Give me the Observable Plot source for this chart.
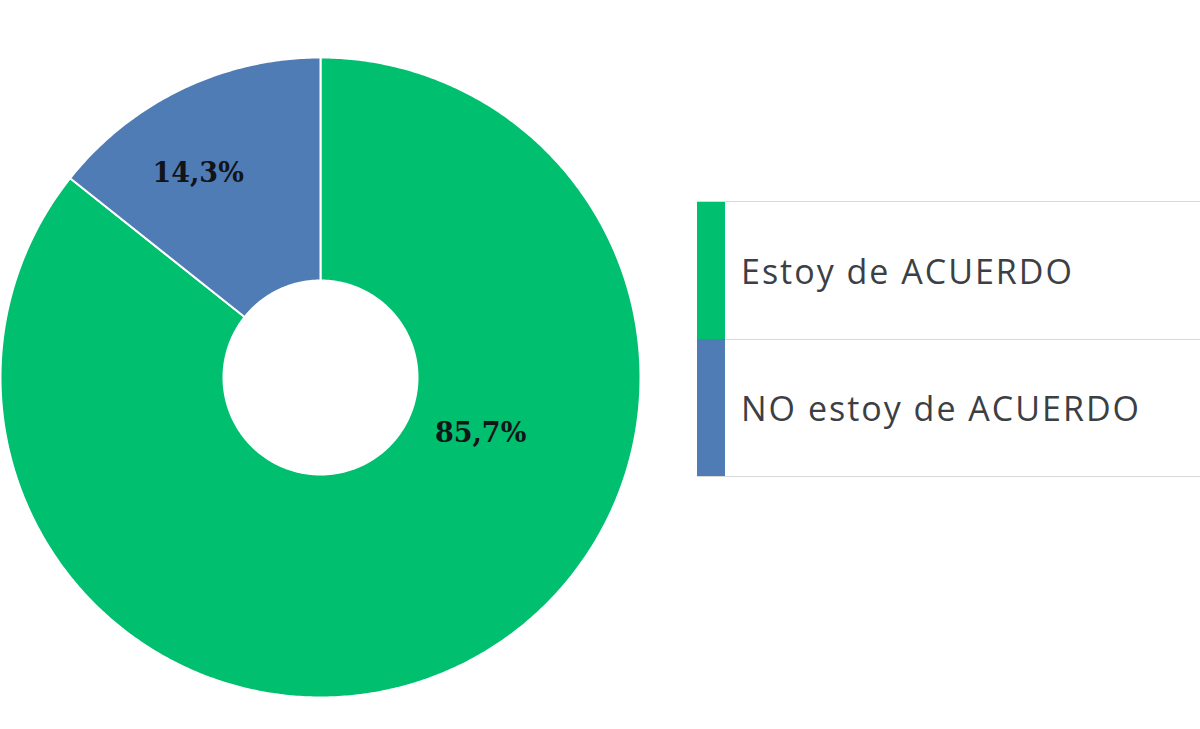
<!DOCTYPE html>
<html>
<head>
<meta charset="utf-8">
<script src="https://cdn.jsdelivr.net/npm/d3@7"></script>
<script src="https://cdn.jsdelivr.net/npm/@observablehq/plot@0.6"></script>
<style>
  html, body { margin: 0; padding: 0; background: #fff; }
  #wrap { position: relative; width: 1200px; height: 729px; overflow: hidden; }
  #legend { position: absolute; left: 697px; top: 201px; width: 503px;
            border-top: 1.5px solid #d9d9d9; border-bottom: 1.5px solid #d9d9d9;
            font-family: "Open Sans", sans-serif; color: #3c3f44; }
  .row { display: flex; height: 137px; }
  .sw { width: 28px; flex: none; }
  .lab { flex: 1; display: flex; align-items: center; padding-left: 16px;
         font-size: 34px; letter-spacing: 2px; }
  .row + .row .lab { border-top: 1.5px solid #d9d9d9; }
</style>
</head>
<body>
<div id="wrap"><div id="legend"></div></div>
<script>
const categories = ["Estoy de ACUERDO", "NO estoy de ACUERDO"];
const values = [85.7, 14.3];
const valueLabels = ["85,7%", "14,3%"];
const colors = ["#00bf6f", "#507cb6"];

// geometry (pixels)
const W = 1200, H = 729, cx = 320, cy = 377, R = 320, r0 = 97;
const k = R; // pixels per unit
const innerFrac = r0 / R;

const pie = d3.pie().sort(null).value(d => d.value);
const slices = pie(categories.map((c, i) => ({category: c, value: values[i], label: valueLabels[i]})));

// arc polygons built from the pie angles
const pts = [];
for (const s of slices) {
  const n = Math.max(2, Math.ceil((s.endAngle - s.startAngle) / (Math.PI / 360)));
  for (let j = 0; j <= n; j++) {
    const a = s.startAngle + (s.endAngle - s.startAngle) * j / n;
    pts.push({category: s.data.category, x: Math.sin(a), y: Math.cos(a)});
  }
  for (let j = n; j >= 0; j--) {
    const a = s.startAngle + (s.endAngle - s.startAngle) * j / n;
    pts.push({category: s.data.category, x: innerFrac * Math.sin(a), y: innerFrac * Math.cos(a)});
  }
}

// label placement (angle shift in radians from slice mid-angle, radius fraction)
const labelStyle = {
  "Estoy de ACUERDO": {shift: -0.785, rad: 0.53},
  "NO estoy de ACUERDO": {shift: -0.09, rad: 0.745}
};
const labels = slices.map(s => {
  const st = labelStyle[s.data.category];
  const a = (s.startAngle + s.endAngle) / 2 + st.shift;
  return {x: st.rad * Math.sin(a), y: st.rad * Math.cos(a), text: s.data.label};
});

const chart = Plot.plot({
  width: W, height: H, margin: 0,
  x: {domain: [-cx / k, (W - cx) / k], axis: null},
  y: {domain: [-(H - cy) / k, cy / k], axis: null},
  color: {domain: categories, range: colors},
  style: {background: "transparent"},
  marks: [
    Plot.line(pts, {x: "x", y: "y", z: "category", fill: "category", stroke: "white",
                    strokeWidth: 2, curve: "linear-closed"}),
    Plot.text(labels, {x: "x", y: "y", text: "text", fill: "#111418",
                       fontFamily: "DejaVu Serif", fontWeight: "bold", fontSize: 27})
  ]
});
document.getElementById("wrap").prepend(chart);
chart.style.position = "absolute";
chart.style.left = "0px";
chart.style.top = "0px";

const legend = document.getElementById("legend");
categories.forEach((c, i) => {
  const row = document.createElement("div");
  row.className = "row";
  const sw = document.createElement("div");
  sw.className = "sw";
  sw.style.background = colors[i];
  const lab = document.createElement("div");
  lab.className = "lab";
  lab.textContent = c;
  row.append(sw, lab);
  legend.append(row);
});
</script>
</body>
</html>
